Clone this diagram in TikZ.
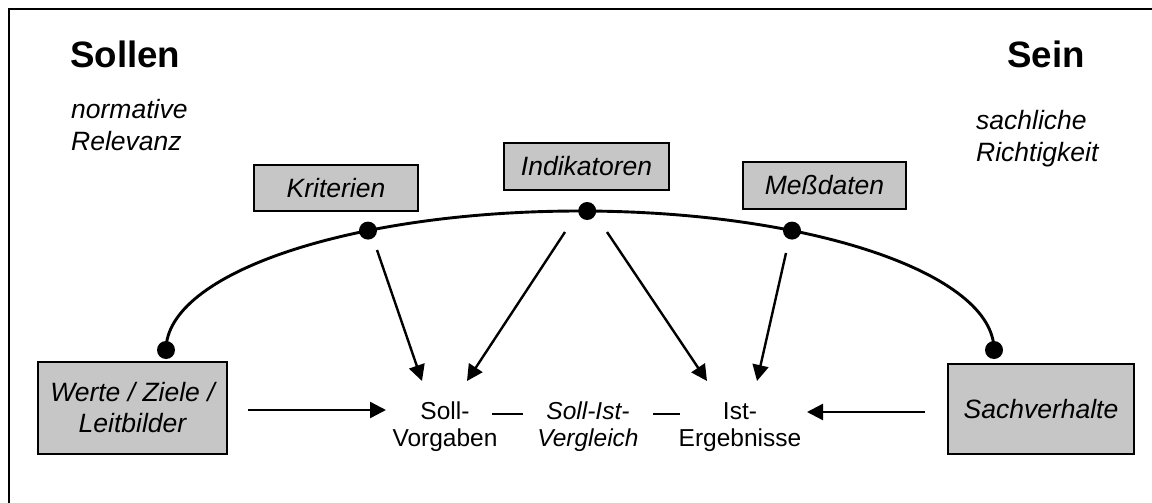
\documentclass[tikz,border=0pt]{standalone}
\usepackage{fontspec}
\setmainfont{Liberation Sans}
\usetikzlibrary{arrows.meta}
\definecolor{boxgray}{RGB}{198,198,198}
\begin{document}
\begin{tikzpicture}[x=1pt,y=-1pt,
  line width=2.4pt,
  field/.style={draw=black, line width=2.6pt, fill=boxgray, inner sep=0pt,
    font=\itshape\fontsize{26.5}{31}\selectfont, align=center},
  title/.style={anchor=base west, inner sep=0pt, font=\bfseries\fontsize{36.7}{44}\selectfont},
  note/.style={anchor=north west, inner sep=0pt, align=left, font=\itshape\fontsize{26.5}{32}\selectfont},
  midtext/.style={inner sep=0pt, align=center, font=\fontsize{24.5}{27}\selectfont},
  joint/.style={circle, fill=black, inner sep=0pt, minimum size=18pt},
  arr/.style={-{Triangle[length=16pt,width=16pt]}, line width=2.4pt},
]
\useasboundingbox (0,0) rectangle (1152,503);
\clip (0,0) rectangle (1152,503);

% frame
\draw (9,540) -- (9,9) -- (1180,9);

% headings
\node[title] (sollen) at (69,68) {Sollen};
\node[title, anchor=base east] (sein) at (1086,68) {Sein};
\node[note] (normrel) at (70,98) {normative\\Relevanz};
\node[note] (sachr) at (975,109) {sachliche\\Richtigkeit};

% shaded fields
\node[field, minimum width=164pt, minimum height=46pt] (krit) at (336,188) {Kriterien};
\node[field, minimum width=165pt, minimum height=47pt] (indi) at (586.5,166.5) {Indikatoren};
\node[field, minimum width=163pt, minimum height=47pt] (mess) at (824.5,185.5) {Meßdaten};
\node[field, minimum width=189pt, minimum height=92pt] (werte) at (132.5,408) {Werte / Ziele /\\Leitbilder};
\node[field, minimum width=186pt, minimum height=90pt] (sach) at (1041,409) {Sachverhalte};

% centre texts
\node[midtext] (sollv) at (445,427) {Soll-\\Vorgaben};
\node[midtext, font=\itshape\fontsize{24.5}{27}\selectfont] (vgl) at (588,427) {Soll-Ist-\\Vergleich};
\node[midtext] (istg) at (740,427) {Ist-\\Ergebnisse};

% arc through the joints (ellipse centre (580,350), radii 414 and 139)
\draw[line width=2.9pt] (166,350) arc[start angle=180, end angle=360, x radius=414, y radius=139];
\node[joint] (jw) at (166,350) {};
\node[joint] (jk) at (368,230.6) {};
\node[joint] (ji) at (587.2,211) {};
\node[joint] (jm) at (792,230.6) {};
\node[joint] (js) at (994,350) {};

% arrow ends
\coordinate (k1) at (377,250);  \coordinate (k2) at (422,381);
\coordinate (i1) at (565,232);  \coordinate (i2) at (467,381);
\coordinate (i3) at (607,232);  \coordinate (i4) at (707,381);
\coordinate (m1) at (786,253);  \coordinate (m2) at (757,381);
\coordinate (w1) at (248,410);  \coordinate (w2) at (386,410);
\coordinate (s1) at (925,412);  \coordinate (s2) at (807,412);
\draw[arr] (k1) -- (k2);
\draw[arr] (i1) -- (i2);
\draw[arr] (i3) -- (i4);
\draw[arr] (m1) -- (m2);
\draw[arr] (w1) -- (w2);
\draw[arr] (s1) -- (s2);

% dashes between the centre texts
\coordinate (d1) at (492,414); \coordinate (d2) at (523,414);
\coordinate (d3) at (653,414); \coordinate (d4) at (680,414);
\draw (d1) -- (d2);
\draw (d3) -- (d4);
\end{tikzpicture}
\end{document}
